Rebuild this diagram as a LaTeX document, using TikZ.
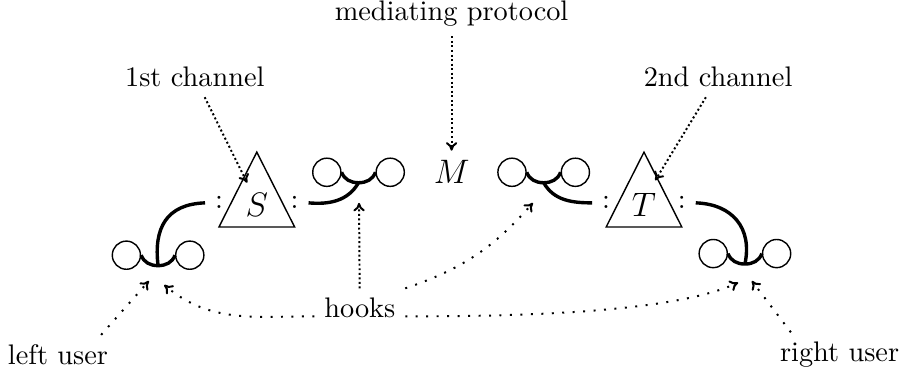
\documentclass[tikz,border=0pt]{standalone}
\usepackage{amsmath,amssymb}
\usepackage{tikz}
\usetikzlibrary{arrows.meta,positioning}

\begin{document}
\begin{tikzpicture}[
  ring/.style={circle,draw,line width=0.5pt,minimum size=0.35cm,inner sep=0pt},
  hk/.style={line width=1.2pt},
  tri/.style={line width=0.5pt,line join=miter},
  ptr/.style={-{To[length=3pt,width=4pt]},line width=0.7pt,dash pattern=on 0.7pt off 3pt},
  ptrd/.style={ptr,dash pattern=on 0.7pt off 0.9pt}]
\useasboundingbox (0,0) rectangle (11.23,4.67);
% labels
\node (proto) at (5.61,4.50) {mediating protocol};
\node (ch1) at (2.42,3.71) {1st channel};
\node (ch2) at (8.92,3.71) {2nd channel};
\node (hooks) at (4.47,0.84) {hooks};
\node (luser) at (0.72,0.26) {left user};
\node (ruser) at (10.43,0.26) {right user};
% channels
\draw[tri] (3.19,2.78) -- (2.72,1.85) -- (3.66,1.85) -- cycle;
\draw[tri] (8.00,2.78) -- (7.53,1.85) -- (8.47,1.85) -- cycle;
\node[font=\large] (S) at (3.19,2.12) {$S$};
\node[font=\large] (T) at (8.00,2.12) {$T$};
\node (Sl) at (2.72,2.15) {:};
\node (Sr) at (3.66,2.15) {:};
\node (Tl) at (7.53,2.15) {:};
\node (Tr) at (8.47,2.15) {:};
\node[font=\large] (M) at (5.61,2.53) {$M$};
% users and hooks
\node[ring] (a1) at (4.06,2.53) {};
\node[ring,right=0.42cm of a1] (a2) {};
\node[ring] (b1) at (6.36,2.53) {};
\node[ring,right=0.42cm of b1] (b2) {};
\node[ring] (c1) at (1.57,1.50) {};
\node[ring,right=0.42cm of c1] (c2) {};
\node[ring] (d1) at (8.86,1.52) {};
\node[ring,right=0.42cm of d1] (d2) {};
\path (a1) -- (a2) coordinate[midway,yshift=-0.13cm] (ac);
\path (b1) -- (b2) coordinate[midway,yshift=-0.13cm] (bc);
\path (c1) -- (c2) coordinate[midway,yshift=-0.13cm] (cc);
\path (d1) -- (d2) coordinate[midway,yshift=-0.13cm] (dc);
\draw[hk] (a1.east) to[out=-70,in=180] (ac) to[out=0,in=-110] (a2.west);
\draw[hk] (b1.east) to[out=-70,in=180] (bc) to[out=0,in=-110] (b2.west);
\draw[hk] (c1.east) to[out=-70,in=180] (cc) to[out=0,in=-110] (c2.west);
\draw[hk] (d1.east) to[out=-70,in=180] (dc) to[out=0,in=-110] (d2.west);
\draw[hk] (Sl.west) to[out=182,in=97,looseness=1.25] (cc);
\draw[hk] (Sr.east) to[out=-5,in=-120] (ac);
\draw[hk] (bc) to[out=-60,in=180] (Tl.west);
\draw[hk] (Tr.east) to[out=-2,in=78,looseness=1.2] (dc);
% pointers
\coordinate (Stip) at (3.07,2.40);
\coordinate (Ttip) at (8.14,2.43);
\coordinate (atip) at (4.46,2.15);
\coordinate (btip) at (6.62,2.15);
\coordinate (ctip) at (2.04,1.13);
\coordinate (dtip) at (9.17,1.16);
\coordinate (lutip) at (1.85,1.18);
\coordinate (rutip) at (9.34,1.18);
\draw[ptrd] (proto) -- (M);
\draw[ptrd] (ch1) -- (Stip);
\draw[ptrd] (ch2) -- (Ttip);
\draw[ptrd] (hooks) -- (atip);
\draw[ptr] (hooks.north east) to[bend right=15] (btip);
\draw[ptr] (hooks.190) to[out=180,in=-40] (ctip);
\draw[ptr] (hooks.-10) to[out=0,in=-155,looseness=0.6] (dtip);
\draw[ptr] (luser.25) -- (lutip);
\draw[ptr] (ruser.155) -- (rutip);
\end{tikzpicture}
\end{document}
